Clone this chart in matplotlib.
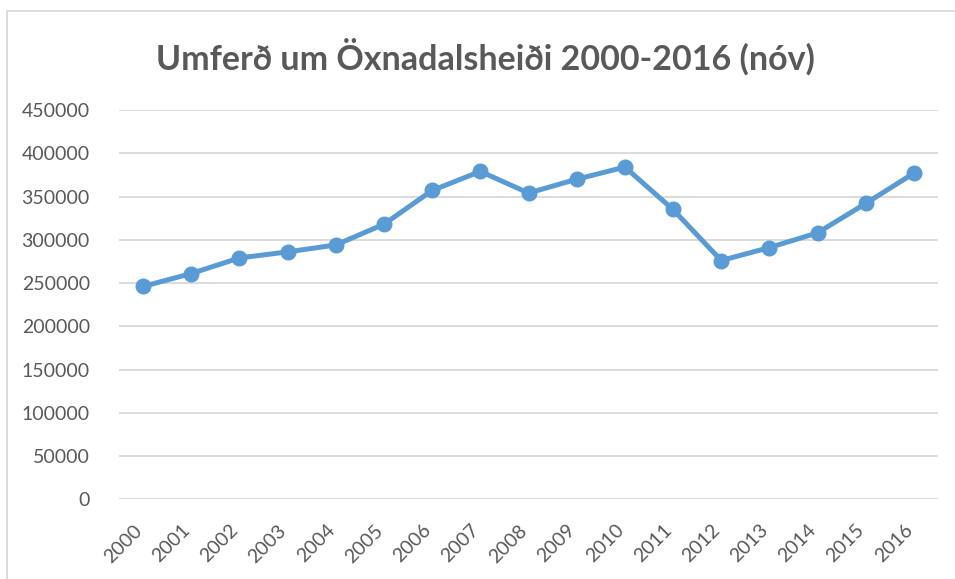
import matplotlib
matplotlib.use('Agg')
import matplotlib.pyplot as plt
import matplotlib.patches as mpatches
import matplotlib.transforms as mtrans

plt.rcParams['font.family'] = ['Lato', 'DejaVu Sans']

years = [str(y) for y in range(2000, 2017)]
traffic = [246000, 261000, 279000, 286000, 294000, 318000, 357000, 379000, 354000,
           370000, 384000, 335000, 276000, 291000, 308000, 342000, 377000]
yticks = list(range(0, 450001, 50000))

TXT = '#595959'
GRID = '#d9d9d9'
LINE = '#5b9bd5'

fig = plt.figure(figsize=(9.55, 5.79), dpi=100)
fig.patch.set_facecolor('white')

# chart frame (cut off on right/bottom like the screenshot)
fig.patches.append(mpatches.Rectangle((7/955, -0.1), 1.2, 1 - 11/579 + 0.1,
                                      transform=fig.transFigure, fill=False,
                                      edgecolor=GRID, linewidth=1.3))

ax = fig.add_axes([119/955, (579-499.3)/579, (938-119)/955, (499.3-110)/579])
x = list(range(len(years)))
ax.plot(x, traffic, color=LINE, linewidth=3.6, marker='o', markersize=10.5, zorder=3)

ax.set_xlim(-0.5, len(years) - 0.5)
ax.set_ylim(0, 450000)
ax.set_yticks(yticks)
ax.set_yticklabels([str(v) for v in yticks])
ax.set_xticks(x)
ax.set_xticklabels(years, rotation=45, ha='right', rotation_mode='anchor')
ax.tick_params(axis='both', length=0, colors=TXT, labelsize=14)
ax.tick_params(axis='y', pad=21)
ax.tick_params(axis='x', pad=16)
# shift the slanted year labels a little to the left, as Excel does
shift = mtrans.ScaledTranslation(-10/100, 0, fig.dpi_scale_trans)
for lab in ax.get_xticklabels():
    lab.set_transform(lab.get_transform() + shift)
for s in ax.spines.values():
    s.set_visible(False)
ax.grid(axis='y', color=GRID, linewidth=1.3)
ax.set_axisbelow(True)

fig.text(485/955, 1 - 57/579, 'Umferð um Öxnadalsheiði 2000-2016 (nóv)',
         ha='center', va='center', fontsize=24.5, fontweight='bold', color=TXT)

fig.savefig('out.png', dpi=100)
